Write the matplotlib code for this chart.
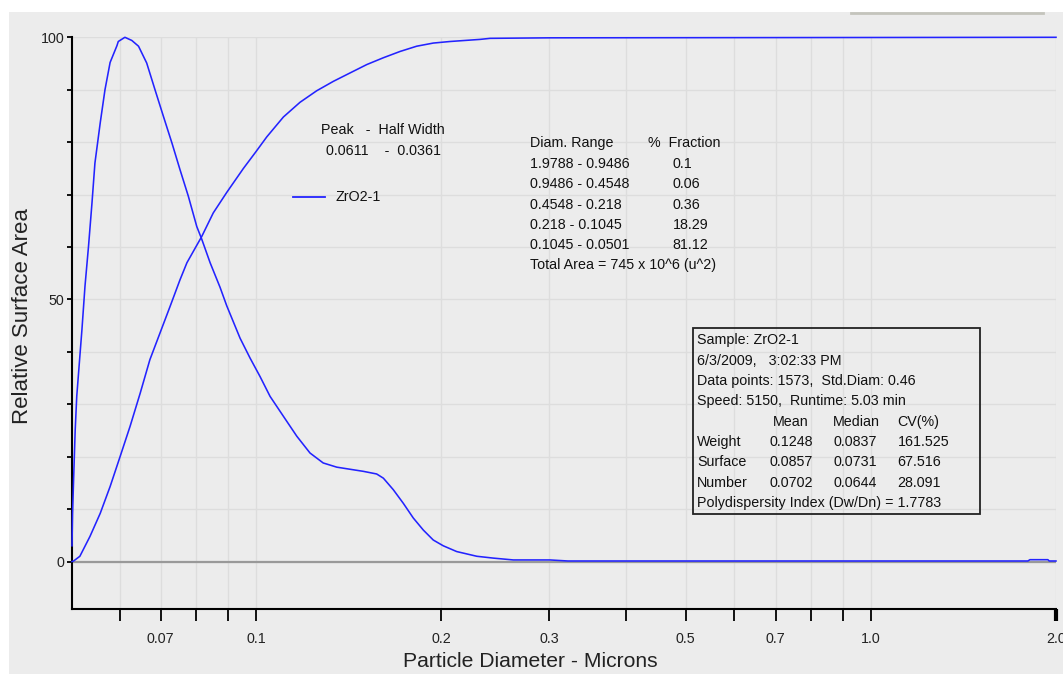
import matplotlib
matplotlib.use("Agg")
import matplotlib.pyplot as plt
from matplotlib.lines import Line2D
from matplotlib.patches import Rectangle
from matplotlib.ticker import FixedLocator, NullFormatter, NullLocator

plt.rcParams["font.family"] = ["Liberation Sans", "DejaVu Sans"]

# surface-area distribution (relative %), diameter in microns
dist_diam = [0.0502, 0.0503, 0.0505, 0.0508, 0.0511, 0.0516, 0.0521, 0.0527,
             0.0534, 0.0541, 0.0547, 0.0558, 0.0568, 0.0579, 0.0594, 0.0597,
             0.0612, 0.0628, 0.0644, 0.0664, 0.0685, 0.0707, 0.0730, 0.0752,
             0.0776, 0.0801, 0.0816, 0.0842, 0.0874, 0.0896, 0.0942, 0.0978,
             0.1015, 0.1054, 0.1108, 0.1165, 0.1224, 0.1286, 0.1353, 0.1422,
             0.1495, 0.1571, 0.1611, 0.1672, 0.1736, 0.1802, 0.1871, 0.1942,
             0.2016, 0.2120, 0.2286, 0.2432, 0.2621, 0.3006, 0.3216, 1.80,
             1.814, 1.940, 1.95, 2.0]
dist_val = [3.0, 9.0, 15.6, 25.0, 31.5, 37.9, 44.2, 52.5,
            60.1, 68.4, 76.0, 83.7, 90.0, 95.2, 98.4, 99.2,
            100.0, 99.4, 98.3, 95.1, 90.0, 84.9, 79.8, 74.8,
            69.7, 63.9, 61.5, 57.0, 52.3, 48.8, 42.6, 38.8,
            35.3, 31.5, 27.7, 23.9, 20.7, 18.8, 18.0, 17.6,
            17.2, 16.7, 15.9, 13.7, 11.1, 8.3, 6.0, 4.1,
            3.0, 1.9, 1.0, 0.65, 0.3, 0.3, 0.1, 0.1,
            0.35, 0.35, 0.1, 0.1]

# cumulative curve
cum_diam = [0.0502, 0.0505, 0.0517, 0.0537, 0.0558, 0.0579, 0.0601, 0.0624,
            0.0648, 0.0672, 0.0698, 0.0725, 0.0752, 0.0772, 0.0816, 0.0852,
            0.0896, 0.0954, 0.1000, 0.1041, 0.1108, 0.1179, 0.1255, 0.1336,
            0.1422, 0.1514, 0.1611, 0.1715, 0.1825, 0.1942, 0.2068, 0.2314,
            0.2402, 0.3006, 2.0]
cum_val = [0.0, 0.1, 1.0, 4.8, 9.2, 14.3, 20.0, 25.8,
           32.1, 38.5, 43.6, 48.7, 53.7, 57.0, 62.0, 66.5,
           70.4, 75.0, 78.2, 81.0, 84.8, 87.6, 89.8, 91.6,
           93.2, 94.8, 96.1, 97.3, 98.3, 98.9, 99.2, 99.6,
           99.8, 99.9, 100.0]

x_major = [0.07, 0.1, 0.2, 0.3, 0.5, 0.7, 1.0, 2.0]
x_major_labels = ["0.07", "0.1", "0.2", "0.3", "0.5", "0.7", "1.0", "2.0"]
x_minor = [0.06, 0.08, 0.09, 0.4, 0.6, 0.8, 0.9]
y_major = [0, 50, 100]
y_minor = [10, 20, 30, 40, 60, 70, 80, 90]

peak_lines = ["Peak   -  Half Width", "0.0611    -  0.0361"]
range_labels = ["1.9788 - 0.9486", "0.9486 - 0.4548", "0.4548 - 0.218",
                "0.218 - 0.1045", "0.1045 - 0.0501"]
range_fractions = ["0.1", "0.06", "0.36", "18.29", "81.12"]
total_area = "Total Area = 745 x 10^6 (u^2)"
sample_lines = ["Sample: ZrO2-1", "6/3/2009,   3:02:33 PM",
                "Data points: 1573,  Std.Diam: 0.46",
                "Speed: 5150,  Runtime: 5.03 min"]
stat_cols = ["Mean", "Median", "CV(%)"]
stat_rows = ["Weight", "Surface", "Number"]
stat_vals = [["0.1248", "0.0837", "161.525"],
             ["0.0857", "0.0731", "67.516"],
             ["0.0702", "0.0644", "28.091"]]
pdi_line = "Polydispersity Index (Dw/Dn) = 1.7783"

W, H = 1063, 674
BG = "#ececec"
BLUE = "#2323ff"


def fx(x):
    return x / W


def fy(y):
    return 1 - y / H


fig = plt.figure(figsize=(W / 100, H / 100), dpi=100, facecolor="white")
fig.patches.append(Rectangle((fx(9), 0), 1, fy(12), transform=fig.transFigure,
                             facecolor=BG, edgecolor="none", zorder=-10))
fig.lines.append(Line2D([fx(851), fx(1043)], [fy(13), fy(13)], transform=fig.transFigure,
                        color="#c4c4bc", lw=2))

ax = fig.add_axes([fx(72), fy(608.7), fx(1056) - fx(72), fy(37.3) - fy(608.7)])
ax.set_facecolor(BG)
ax.set_xscale("log")
ax.set_xlim(0.0502, 2.0)
ax.set_ylim(-9, 100)

ax.xaxis.set_major_locator(FixedLocator(x_major + x_minor))
ax.set_xticklabels(x_major_labels + [""] * len(x_minor))
ax.xaxis.set_minor_locator(NullLocator())
ax.xaxis.set_minor_formatter(NullFormatter())
ax.yaxis.set_major_locator(FixedLocator(y_major))
ax.yaxis.set_minor_locator(FixedLocator(y_minor))

ax.grid(True, which="both", color="#dddddd", lw=1.0)
ax.set_axisbelow(True)
ax.axhline(0, color="#999999", lw=1.6, zorder=1)

ax.tick_params(axis="x", which="major", length=8.6, width=1.3, pad=8, labelsize=10.3,
               colors="black", labelcolor="#222222")
ax.tick_params(axis="y", which="both", length=3.6, width=1.3, pad=2, labelsize=10.3,
               colors="black", labelcolor="#222222")
ax.xaxis.get_major_ticks()[7].tick1line.set_markeredgewidth(3)

for s in ["top", "right"]:
    ax.spines[s].set_visible(False)
for s in ["left", "bottom"]:
    ax.spines[s].set_linewidth(1.5)
ax.spines["left"].set_bounds(-9, 100)

ax.plot(dist_diam, dist_val, color=BLUE, lw=1.15, clip_on=False, zorder=3)
ax.plot(cum_diam, cum_val, color=BLUE, lw=1.15, clip_on=False, zorder=3)

fig.text(fx(22.5), fy(316), "Relative Surface Area", rotation=90, ha="center",
         va="center", fontsize=16, color="#222222")
fig.text(fx(403), fy(652), "Particle Diameter - Microns", ha="left", va="top",
         fontsize=15.2, color="#222222")

fs = 10.3
tc = "#111111"
fig.text(fx(321), fy(130), peak_lines[0], ha="left", va="center", fontsize=fs, color=tc)
fig.text(fx(326), fy(151), peak_lines[1], ha="left", va="center", fontsize=fs, color=tc)
fig.lines.append(Line2D([fx(293), fx(325)], [fy(197.3), fy(197.3)],
                        transform=fig.transFigure, color=BLUE, lw=1.3))
fig.text(fx(335), fy(197.3), "ZrO2-1", ha="left", va="center", fontsize=fs, color=tc)

fig.text(fx(530.5), fy(143.3), "Diam. Range", ha="left", va="center", fontsize=fs, color=tc)
fig.text(fx(648), fy(143.3), "%  Fraction", ha="left", va="center", fontsize=fs, color=tc)
row_y = [163.5, 184, 204.5, 225, 245]
for yy, lab, frac in zip(row_y, range_labels, range_fractions):
    fig.text(fx(530.5), fy(yy), lab, ha="left", va="center", fontsize=fs, color=tc)
    fig.text(fx(672.5), fy(yy), frac, ha="left", va="center", fontsize=fs, color=tc)
fig.text(fx(530.5), fy(265.5), total_area, ha="left", va="center", fontsize=fs, color=tc)

# info box
fig.patches.append(Rectangle((fx(693), fy(514)), fx(980) - fx(693), fy(328) - fy(514),
                             transform=fig.transFigure, facecolor="none",
                             edgecolor="#222222", lw=1.3, zorder=5))
box_y = [340, 360.7, 381, 401.3, 421.7, 442.2, 462.5, 482.7, 503]
for yy, line in zip(box_y[:4], sample_lines):
    fig.text(fx(697), fy(yy), line, ha="left", va="center", fontsize=fs, color=tc)
col_x = [773, 833, 897]
for xx, lab in zip(col_x, stat_cols):
    fig.text(fx(xx), fy(box_y[4]), lab, ha="left", va="center", fontsize=fs, color=tc)
val_x = [770, 834, 897.5]
for i, (rlab, vals) in enumerate(zip(stat_rows, stat_vals)):
    yy = box_y[5 + i]
    fig.text(fx(697), fy(yy), rlab, ha="left", va="center", fontsize=fs, color=tc)
    for xx, v in zip(val_x, vals):
        fig.text(fx(xx), fy(yy), v, ha="left", va="center", fontsize=fs, color=tc)
fig.text(fx(697), fy(box_y[8]), pdi_line, ha="left", va="center", fontsize=fs, color=tc)

fig.savefig("out.png", dpi=100, facecolor="white")
